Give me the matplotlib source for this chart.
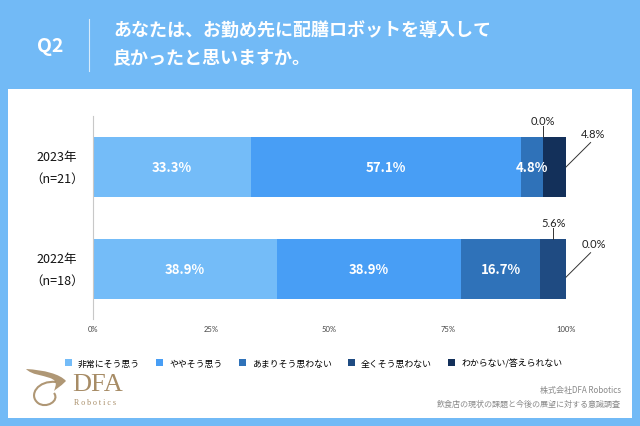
import numpy as np
import matplotlib
matplotlib.use("Agg")
import matplotlib.pyplot as plt
from matplotlib.patches import Rectangle, PathPatch, Patch
from matplotlib.path import Path

plt.rcParams['font.family'] = ['Noto Sans CJK JP', 'DejaVu Sans']

# --- データ ---
years = ['2023年', '2022年']
sample_sizes = ['（n=21）', '（n=18）']
categories = ['非常にそう思う', 'ややそう思う', 'あまりそう思わない', '全くそう思わない', 'わからない/答えられない']
values_2023 = [33.3, 57.1, 4.8, 0.0, 4.8]
values_2022 = [38.9, 38.9, 16.7, 5.6, 0.0]
ticks = [0, 25, 50, 75, 100]
tick_labels = ['0%', '25%', '50%', '75%', '100%']

title_q = 'Q2'
title_text = 'あなたは、お勤め先に配膳ロボットを導入して\n良かったと思いますか。'
footer_company = '株式会社DFA Robotics'
footer_survey = '飲食店の現状の課題と今後の展望に対する意識調査'

colors = ['#74bcf8', '#489ef5', '#2f72b9', '#1f4b82', '#13305a']
bg_blue = '#72baf6'
gold = '#a78c66'
num_font = ['Lato', 'DejaVu Sans']

W, H = 640, 427
fig = plt.figure(figsize=(W / 100, H / 100), dpi=100)
fig.patch.set_facecolor(bg_blue)

# 背景用のピクセル座標の軸
bg = fig.add_axes([0, 0, 1, 1], zorder=0)
bg.set_xlim(0, W)
bg.set_ylim(H, 0)
bg.axis('off')
bg.add_patch(Rectangle((8, 90), 624, 329, facecolor='white', edgecolor='none'))

# ヘッダー
bg.text(50, 47, title_q, color='white', fontsize=14, fontweight='bold',
        ha='center', va='center')
bg.plot([89, 89], [20, 72], color='#d6ebfc', lw=0.8)
bg.text(113, 44, title_text, color='white', fontsize=13, fontweight='bold',
        ha='left', va='center', linespacing=1.55)

# ロゴ（簡略化したマーク）
swoosh = Path([(26, 370), (44, 371), (60, 375), (66, 382),
               (60, 388), (56, 390), (54, 392),
               (56, 386), (58, 382), (50, 379),
               (42, 376), (32, 376), (26, 370)],
              [Path.MOVETO, Path.CURVE4, Path.CURVE4, Path.CURVE4,
               Path.CURVE4, Path.CURVE4, Path.CURVE4,
               Path.CURVE4, Path.CURVE4, Path.CURVE4,
               Path.CURVE4, Path.CURVE4, Path.CURVE4])
bg.add_patch(PathPatch(swoosh, facecolor=gold, edgecolor='none', alpha=0.9))
loop = Path([(56, 383), (38, 381), (28, 396), (38, 404),
             (46, 410), (60, 402), (54, 394)],
            [Path.MOVETO, Path.CURVE4, Path.CURVE4, Path.CURVE4,
             Path.CURVE4, Path.CURVE4, Path.CURVE4])
bg.add_patch(PathPatch(loop, facecolor='none', edgecolor=gold, lw=1.5, alpha=0.9))
bg.text(72, 385, 'DFA', color=gold, fontsize=19, family='Liberation Serif',
        ha='left', va='center')
bg.text(74, 403, 'R o b o t i c s', color=gold, fontsize=5.8, family='Liberation Serif',
        ha='left', va='center')

# フッター
bg.text(621, 391, footer_company, color='#8a8a8a', fontsize=5.8, ha='right', va='center')
bg.text(621, 404, footer_survey, color='#8a8a8a', fontsize=5.8, ha='right', va='center')

# --- グラフ本体 ---
ax = fig.add_axes([93 / W, 1 - 320 / H, (566 - 93) / W, (320 - 117) / H], zorder=1)
ax.set_facecolor('none')

data = [values_2023, values_2022]
ypos = [1, 0]
bar_h = 0.58

for vals, y in zip(data, ypos):
    left = 0.0
    for i, v in enumerate(vals):
        ax.barh(y, v, left=left, height=bar_h, color=colors[i], edgecolor='none')
        cx = left + v / 2
        top = y + bar_h / 2
        label = f'{v:.1f}%'
        if i < 3:
            # 大きい区分はバー内に白文字
            ax.text(cx, y, label, color='white', fontsize=9.5, fontweight='bold',
                    ha='center', va='center')
        elif i == 3:
            # 全くそう思わない：上に引き出し線
            ax.plot([cx, cx], [top, top + 0.11], color='#333333', lw=0.7, clip_on=False)
            ax.text(cx, top + 0.17, label, color='#222222', fontsize=8,
                    family=num_font, ha='center', va='center', clip_on=False)
        else:
            # わからない：右に斜めの引き出し線
            y0 = y - 0.08 if v == 0 else y
            ax.plot([100, 105.2], [y0, y0 + 0.24], color='#333333', lw=0.7, clip_on=False)
            ax.text(105.8, y0 + 0.33, label, color='#222222', fontsize=8,
                    family=num_font, ha='center', va='center', clip_on=False)
        left += v

ax.set_xlim(0, 100)
ax.set_ylim(-0.49, 1.5)
ax.set_xticks(ticks)
ax.set_xticklabels(tick_labels, fontsize=5.5, color='#444444', family=num_font)
ax.tick_params(axis='x', length=0, pad=4)
ax.set_yticks([])
for s in ['top', 'right', 'bottom']:
    ax.spines[s].set_visible(False)
ax.spines['left'].set_color('#c8c8c8')
ax.spines['left'].set_linewidth(0.8)

# 年と回答者数
for y, yr, n in zip(ypos, years, sample_sizes):
    ax.text(-0.076, y, f'{yr}\n{n}', transform=ax.get_yaxis_transform(),
            fontsize=9, color='#111111', ha='center', va='center', linespacing=1.9)

# 凡例
handles = [Patch(facecolor=c, edgecolor='none') for c in colors]
fig.legend(handles, categories, loc='center', bbox_to_anchor=(0.49, 1 - 364 / H),
           ncol=5, frameon=False, fontsize=6.4, handlelength=0.8, handleheight=0.8,
           handletextpad=0.7, columnspacing=1.8)

fig.savefig('out.png', dpi=100, facecolor=fig.get_facecolor())
